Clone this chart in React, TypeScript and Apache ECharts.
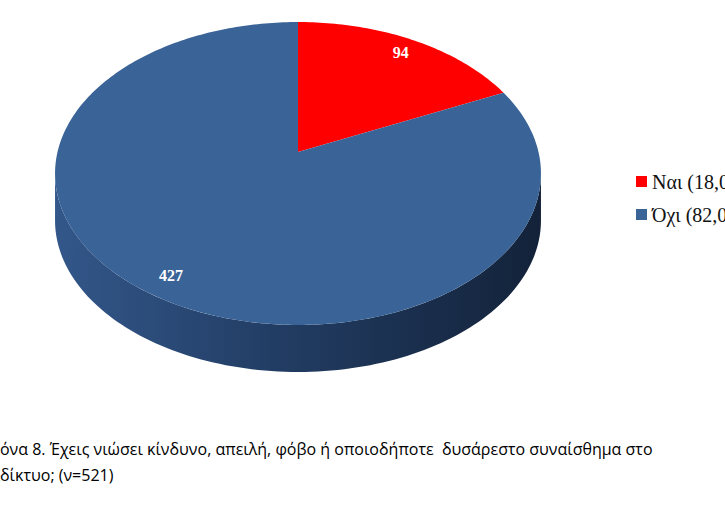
import React, { useEffect, useRef } from "react";
import * as echarts from "echarts";

const CATEGORIES = ["Ναι", "Όχι"];
const VALUES = [94, 427];
const LEGEND_LABELS = ["Ναι (18,0%)", "Όχι (82,0%)"];
const COLORS = ["#ff0000", "#3a6497"];
const CAPTION_LINES = [
  "Εικόνα 8. Έχεις νιώσει κίνδυνο, απειλή, φόβο ή οποιοδήποτε  δυσάρεστο συναίσθημα στο",
  "διαδίκτυο; (ν=521)",
];
const CAPTION_HIDDEN = ["Εικ", "δια"];

// geometry of the tilted pie
const CX = 298;
const CY = 152;
const RA = 240.5;
const RB = 148.4;
const PERSP = 0.142;
const DEPTH = 47;
const LABEL_R = 0.88;
const CAPTION_SIZE = 16;
const CAPTION_FONT = CAPTION_SIZE + "px 'Open Sans'";

function project(theta: number, r: number): [number, number] {
  const u = r * Math.sin(theta);
  const v = -r * Math.cos(theta);
  const den = 1 - PERSP * v;
  return [CX + (RA * u) / den, CY + (RB * v) / den];
}

function measure(text: string, font: string): number {
  const c = document.createElement("canvas");
  const ctx = c.getContext("2d");
  if (!ctx) return 0;
  ctx.font = font;
  return ctx.measureText(text).width;
}

export default function App() {
  const ref = useRef<HTMLDivElement>(null);
  useEffect(() => {
    document.body.style.margin = "0";
    if (!ref.current) return;
    const chart = echarts.init(ref.current, undefined, { renderer: "svg" });
    const total = VALUES.reduce((a, b) => a + b, 0);
    const thL = Math.acos(-PERSP);
    const thR = 2 * Math.PI - thL;

    const series = VALUES.map((val, i) => ({
      type: "custom",
      name: LEGEND_LABELS[i],
      coordinateSystem: "none",
      itemStyle: { color: COLORS[i] },
      data: [{ value: val, name: CATEGORIES[i] }],
      renderItem: (params: any, api: any) => {
        const si = params.seriesIndex;
        const v = api.value(0);
        let before = 0;
        for (let k = 0; k < si; k++) before += VALUES[k];
        const a0 = (before / total) * 2 * Math.PI;
        const a1 = ((before + v) / total) * 2 * Math.PI;
        const children: any[] = [];
        const s0 = Math.max(a0, thL);
        const s1 = Math.min(a1, thR);
        if (s1 > s0) {
          const top: number[][] = [];
          const N = 120;
          for (let j = 0; j <= N; j++) {
            top.push(project(s0 + ((s1 - s0) * j) / N, 1));
          }
          const bottom = top.map((p) => [p[0], p[1] + DEPTH]).reverse();
          children.push({
            type: "polygon",
            shape: { points: top.concat(bottom) },
            style: {
              fill: {
                type: "linear",
                x: CX - RA * 1.01,
                y: 0,
                x2: CX + RA * 1.01,
                y2: 0,
                global: true,
                colorStops: [
                  { offset: 0, color: "#33578a" },
                  { offset: 0.45, color: "#223d64" },
                  { offset: 1, color: "#132239" },
                ],
              },
            },
          });
        }
        const pts: number[][] = [[CX, CY]];
        const M = Math.max(8, Math.round(((a1 - a0) / (2 * Math.PI)) * 360));
        for (let j = 0; j <= M; j++) {
          pts.push(project(a0 + ((a1 - a0) * j) / M, 1));
        }
        children.push({
          type: "polygon",
          shape: { points: pts },
          style: { fill: COLORS[si] },
        });
        const lp = project((a0 + a1) / 2, LABEL_R);
        children.push({
          type: "text",
          x: lp[0],
          y: lp[1],
          style: {
            text: String(v),
            fill: "#ffffff",
            fontFamily: "Liberation Serif",
            fontWeight: "bold",
            fontSize: 16,
            align: "center",
            verticalAlign: "middle",
          },
        });
        return { type: "group", children };
      },
    }));

    const captionEls = CAPTION_LINES.map((line, i) => ({
      type: "text",
      x: -measure(CAPTION_HIDDEN[i], CAPTION_FONT),
      y: 449 + i * 26,
      style: {
        text: line,
        fill: "#000000",
        fontFamily: "Open Sans",
        fontSize: CAPTION_SIZE,
        verticalAlign: "middle",
      },
    }));

    chart.setOption({
      animation: false,
      backgroundColor: "#ffffff",
      legend: {
        data: LEGEND_LABELS,
        orient: "vertical",
        left: 631,
        top: 166,
        itemWidth: 11,
        itemHeight: 11,
        itemGap: 12,
        icon: "rect",
        textStyle: {
          fontFamily: "Liberation Serif",
          fontSize: 20,
          color: "#111111",
          lineHeight: 21,
        },
      },
      graphic: captionEls,
      series,
    });
    return () => chart.dispose();
  }, []);
  return <div ref={ref} style={{ width: 725, height: 520 }} />;
}
